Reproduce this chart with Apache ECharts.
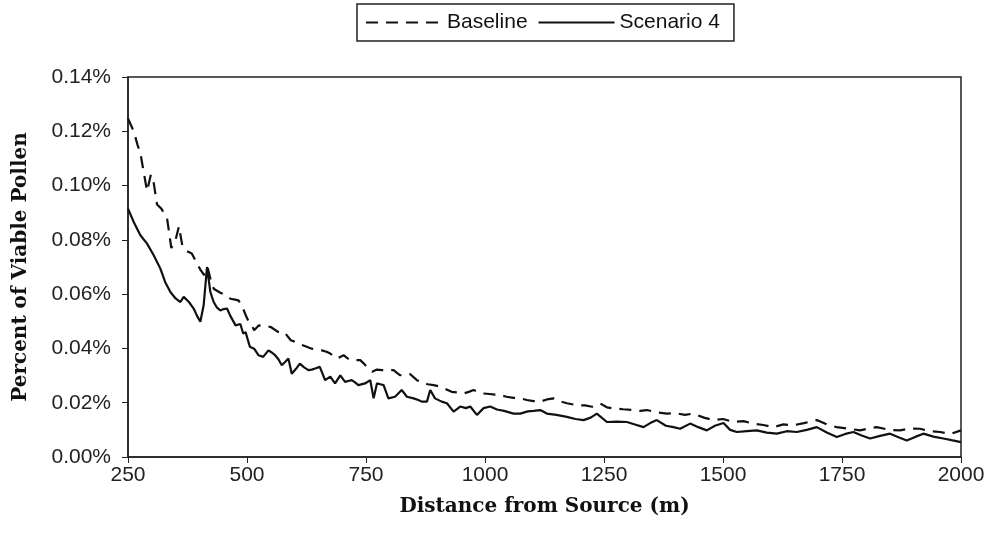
<!DOCTYPE html>
<html>
<head>
<meta charset="utf-8">
<script src="https://cdn.jsdelivr.net/npm/echarts@6/dist/echarts.min.js"></script>
<style>html,body{margin:0;padding:0;background:#fff;}#chart{width:990px;height:545px;}</style>
</head>
<body>
<div id="chart"></div>
<script>
// Distance from source (m) and percent of viable pollen (in % units)
const baselineX = [250,262,270,276,283,290,298,304,311,320,332,341,350,357,364,372,384,393,402,410,417,424,430,444,458,465,475,482,490,496,503,510,515,525,537,550,565,578,592,600,607,620,636,647,657,667,675,689,703,710,717,728,738,745,752,763,773,784,794,808,815,822,832,843,857,871,880,892,906,918,930,942,955,966,976,987,997,1010,1020,1032,1045,1060,1074,1088,1102,1116,1130,1144,1158,1172,1193,1210,1225,1242,1256,1270,1290,1312,1326,1340,1360,1382,1400,1420,1438,1460,1480,1500,1522,1543,1564,1585,1606,1627,1648,1670,1697,1718,1739,1760,1788,1805,1823,1850,1872,1893,1914,1935,1956,1978,2000];
const baselineY = [0.1247,0.1200,0.1150,0.1120,0.1050,0.0980,0.1040,0.1010,0.0930,0.0915,0.0880,0.0770,0.0800,0.0850,0.0780,0.0760,0.0750,0.0720,0.0690,0.0670,0.0700,0.0650,0.0620,0.0605,0.0595,0.0583,0.0580,0.0577,0.0555,0.0528,0.0500,0.0485,0.0467,0.0485,0.0482,0.0479,0.0461,0.0461,0.0430,0.0425,0.0418,0.0410,0.0399,0.0395,0.0393,0.0388,0.0381,0.0363,0.0375,0.0365,0.0357,0.0357,0.0357,0.0345,0.0332,0.0314,0.0322,0.0320,0.0320,0.0320,0.0310,0.0301,0.0305,0.0305,0.0283,0.0271,0.0268,0.0265,0.0259,0.0250,0.0240,0.0238,0.0234,0.0240,0.0247,0.0238,0.0234,0.0232,0.0230,0.0228,0.0222,0.0218,0.0216,0.0210,0.0206,0.0204,0.0212,0.0216,0.0205,0.0198,0.0191,0.0190,0.0185,0.0197,0.0183,0.0179,0.0176,0.0173,0.0170,0.0173,0.0165,0.0160,0.0162,0.0155,0.0160,0.0145,0.0136,0.0140,0.0129,0.0132,0.0123,0.0118,0.0110,0.0120,0.0117,0.0125,0.0136,0.0120,0.0110,0.0105,0.0098,0.0105,0.0110,0.0100,0.0098,0.0105,0.0104,0.0095,0.0092,0.0085,0.0098];
const scenarioX = [250,262,276,290,304,318,328,339,350,360,367,378,388,395,402,409,416,423,430,437,444,451,458,465,476,486,492,497,506,515,524,534,545,552,559,566,573,580,587,594,603,611,620,629,636,643,653,664,675,685,696,706,713,720,727,734,748,759,766,773,780,787,797,811,825,836,850,860,867,878,885,895,909,920,934,948,960,969,983,997,1011,1025,1040,1060,1074,1090,1102,1116,1130,1150,1172,1190,1207,1222,1235,1256,1277,1298,1315,1333,1347,1361,1380,1396,1410,1431,1448,1466,1483,1501,1515,1529,1550,1571,1592,1613,1634,1655,1676,1697,1718,1739,1757,1774,1790,1809,1830,1851,1870,1886,1905,1921,1942,1963,1980,2000];
const scenarioY = [0.0915,0.0866,0.0817,0.0786,0.0743,0.0694,0.0645,0.0608,0.0584,0.0571,0.0590,0.0571,0.0547,0.0520,0.0498,0.0560,0.0700,0.0608,0.0571,0.0550,0.0540,0.0545,0.0547,0.0520,0.0485,0.0490,0.0455,0.0460,0.0406,0.0399,0.0375,0.0369,0.0393,0.0385,0.0375,0.0360,0.0338,0.0350,0.0363,0.0307,0.0325,0.0344,0.0330,0.0320,0.0322,0.0326,0.0332,0.0283,0.0296,0.0271,0.0301,0.0277,0.0280,0.0283,0.0275,0.0265,0.0271,0.0283,0.0216,0.0271,0.0268,0.0265,0.0216,0.0222,0.0247,0.0222,0.0216,0.0210,0.0204,0.0204,0.0247,0.0216,0.0204,0.0198,0.0167,0.0186,0.0180,0.0186,0.0155,0.0180,0.0186,0.0175,0.0170,0.0160,0.0160,0.0168,0.0170,0.0173,0.0160,0.0155,0.0148,0.0140,0.0136,0.0145,0.0160,0.0129,0.0130,0.0129,0.0120,0.0110,0.0125,0.0136,0.0115,0.0110,0.0104,0.0123,0.0110,0.0098,0.0115,0.0125,0.0100,0.0092,0.0095,0.0098,0.0090,0.0086,0.0095,0.0092,0.0100,0.0110,0.0090,0.0074,0.0085,0.0092,0.0080,0.0068,0.0078,0.0086,0.0072,0.0061,0.0075,0.0086,0.0075,0.0068,0.0062,0.0055];
const seriesNames = ['Baseline', 'Scenario 4'];
const xTitle = 'Distance from Source (m)';
const yTitle = 'Percent of Viable Pollen';

const pairs = (xs, ys) => xs.map((x, i) => [x, ys[i]]);
const chart = echarts.init(document.getElementById('chart'), null, {renderer: 'canvas'});
const tickFont = {fontFamily: 'Liberation Sans', fontSize: 21, color: '#222'};
const titleFont = {fontFamily: 'DejaVu Serif', fontWeight: 'bold', fontSize: 20, color: '#111'};
const dash = [12, 8];
chart.setOption({
  animation: false,
  backgroundColor: '#fff',
  grid: {left: 128, right: 29, top: 77, bottom: 88, show: true, borderColor: '#222', borderWidth: 1.5, backgroundColor: 'transparent'},
  legend: {
    left: 357, top: 4, padding: [8, 14, 8, 8], itemGap: 10, itemWidth: 76, itemHeight: 16,
    borderColor: '#222', borderWidth: 1.5,
    itemStyle: {opacity: 0},
    textStyle: {fontFamily: 'Liberation Sans', fontSize: 21, color: '#111'},
    data: seriesNames
  },
  xAxis: {
    type: 'value', min: 250, max: 2000, interval: 250,
    name: xTitle, nameLocation: 'middle', nameGap: 40, nameTextStyle: titleFont,
    axisLine: {show: true, lineStyle: {color: '#222', width: 1.5}},
    axisTick: {show: true, inside: false, length: 6, lineStyle: {color: '#222'}},
    axisLabel: Object.assign({margin: 8, formatter: v => String(v)}, tickFont),
    splitLine: {show: false}
  },
  yAxis: {
    type: 'value', min: 0, max: 0.14, interval: 0.02,
    name: yTitle, nameLocation: 'middle', nameGap: 97, nameRotate: 90, nameTextStyle: titleFont,
    axisLine: {show: true, lineStyle: {color: '#222', width: 1.5}},
    axisTick: {show: true, inside: false, length: 6, lineStyle: {color: '#222'}},
    axisLabel: Object.assign({margin: 17, formatter: v => v.toFixed(2) + '%'}, tickFont),
    splitLine: {show: false}
  },
  series: [
    {name: seriesNames[0], type: 'line', symbol: 'none', data: pairs(baselineX, baselineY),
     lineStyle: {color: '#111', width: 2.2, type: dash}, itemStyle: {color: '#111'}},
    {name: seriesNames[1], type: 'line', symbol: 'none', data: pairs(scenarioX, scenarioY),
     lineStyle: {color: '#111', width: 2.2, type: 'solid'}, itemStyle: {color: '#111'}}
  ]
});
</script>
</body>
</html>
